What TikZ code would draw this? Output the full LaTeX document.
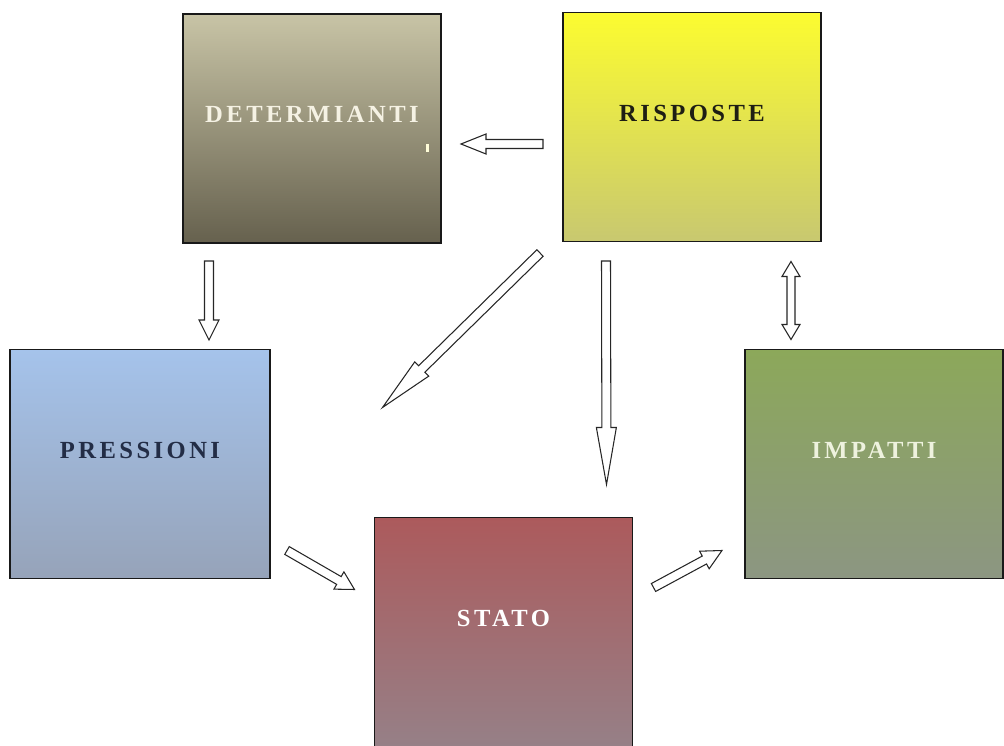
\documentclass[tikz,border=0pt]{standalone}
\usepackage{fontspec}
\usetikzlibrary{calc}
\newfontfamily\labelfont[LetterSpace=14]{Liberation Serif}

\tikzset{
  box/.style={draw=black!90, line width=1pt, minimum width=5.16cm, minimum height=4.58cm,
    outer sep=0pt, text height=9.3pt, text depth=16pt,
    font=\labelfont\bfseries\fontsize{14}{16}\selectfont},
  outline/.style={draw=black!85, line width=0.6pt, fill=white, line join=miter},
  blockarrow/.style={outline, to path={
    let \p1=(\tikztostart), \p2=(\tikztotarget), \p3=($(\p2)!#1!(\p1)$) in
    ($(\p1)!0.09cm!90:(\p2)$) -- ($(\p3)!0.09cm!90:(\p2)$) -- ($(\p3)!0.2cm!90:(\p2)$)
    -- (\p2) -- ($(\p3)!0.2cm!-90:(\p2)$) -- ($(\p3)!0.09cm!-90:(\p2)$)
    -- ($(\p1)!0.09cm!-90:(\p2)$) -- cycle}},
  blockarrow/.default=0.4cm,
  dblockarrow/.style={outline, to path={
    let \p1=(\tikztostart), \p2=(\tikztotarget),
        \p3=($(\p2)!#1!(\p1)$), \p4=($(\p1)!#1!(\p2)$) in
    (\p1) -- ($(\p4)!0.18cm!90:(\p2)$) -- ($(\p4)!0.08cm!90:(\p2)$)
    -- ($(\p3)!0.08cm!90:(\p2)$) -- ($(\p3)!0.18cm!90:(\p2)$) -- (\p2)
    -- ($(\p3)!0.18cm!-90:(\p2)$) -- ($(\p3)!0.08cm!-90:(\p2)$)
    -- ($(\p4)!0.08cm!-90:(\p2)$) -- ($(\p4)!0.18cm!-90:(\p2)$) -- cycle}},
  dblockarrow/.default=0.3cm
}

\begin{document}
\begin{tikzpicture}
  \useasboundingbox (0,0) rectangle (20.08,14.92);
  % boxes
  \node[box, top color={rgb,255:red,200;green,196;blue,166}, bottom color={rgb,255:red,102;green,97;blue,78},
    text={rgb,255:red,245;green,242;blue,228}] (det) at (6.24,12.35) {DETERMIANTI};
  \node[box, top color={rgb,255:red,252;green,252;blue,48}, bottom color={rgb,255:red,200;green,200;blue,112},
    text={rgb,255:red,30;green,30;blue,20}] (risp) at (13.84,12.38) {RISPOSTE};
  \node[box, minimum width=5.2cm, top color={rgb,255:red,165;green,195;blue,235}, bottom color={rgb,255:red,150;green,163;blue,185},
    text={rgb,255:red,35;green,45;blue,70}] (pres) at (2.8,5.64) {PRESSIONI};
  \node[box, top color={rgb,255:red,172;green,90;blue,92}, bottom color={rgb,255:red,150;green,128;blue,135},
    text=white] (stato) at (10.07,2.28) {STATO};
  \node[box, top color={rgb,255:red,140;green,168;blue,90}, bottom color={rgb,255:red,140;green,150;blue,130},
    text={rgb,255:red,238;green,242;blue,222}] (imp) at (17.48,5.64) {IMPATTI};
  % small mark under the first label
  \fill[white!85!yellow] (8.51,11.88) rectangle (8.57,12.04);
  % arrows
  \draw[blockarrow=0.5cm] ([xshift=-0.4cm,yshift=-0.34cm]risp.west) to ([xshift=0.4cm,yshift=-0.31cm]det.east);
  \draw[blockarrow] ([xshift=0.52cm,yshift=-0.36cm]det.south west) to ([xshift=1.38cm,yshift=0.19cm]pres.north);
  \draw[blockarrow=1.1cm] ([xshift=-0.46cm,yshift=-0.23cm]risp.south west) to ([xshift=0.16cm,yshift=2.2cm]stato.north west);
  \draw[blockarrow=1.14cm] ([xshift=0.86cm,yshift=-0.39cm]risp.south west) to ([xshift=-0.52cm,yshift=0.66cm]stato.north east);
  \draw[blockarrow=0.36cm] ([xshift=0.34cm,yshift=0.56cm]pres.south east) to ([xshift=-0.4cm,yshift=-1.44cm]stato.north west);
  \draw[blockarrow] ([xshift=0.42cm,yshift=-1.4cm]stato.north east) to ([xshift=-0.46cm,yshift=0.56cm]imp.south west);
  \draw[dblockarrow] ([xshift=-0.6cm,yshift=-0.4cm]risp.south east) to ([xshift=0.92cm,yshift=0.2cm]imp.north west);
\end{tikzpicture}
\end{document}
